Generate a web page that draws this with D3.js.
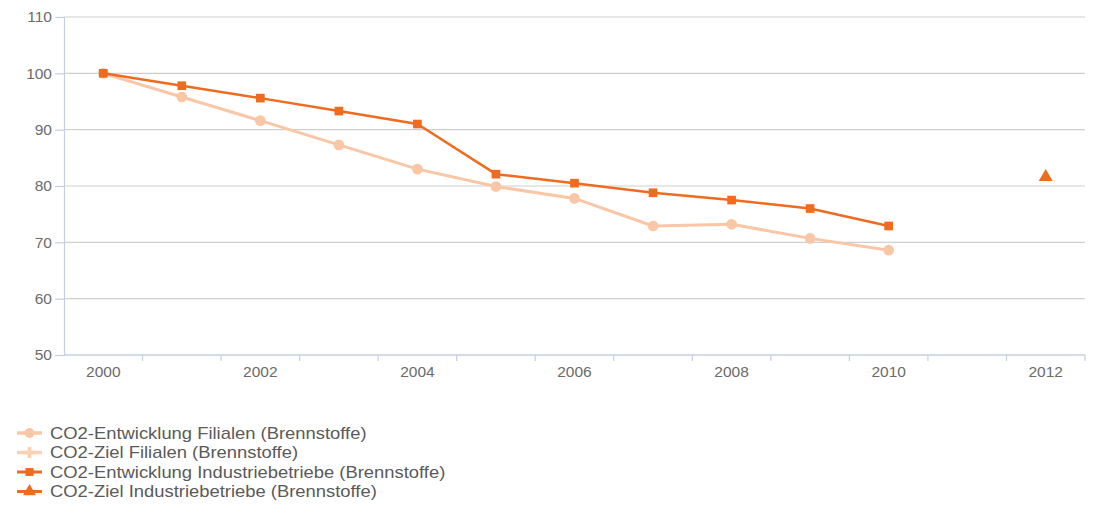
<!DOCTYPE html>
<html>
<head>
<meta charset="utf-8">
<script src="https://cdn.jsdelivr.net/npm/d3@7"></script>
<style>
  html, body { margin: 0; padding: 0; background: #fff; }
  svg { display: block; font-family: "Liberation Sans", Arial, sans-serif; }
</style>
</head>
<body>
<svg id="chart" width="1094" height="507"></svg>
<script>
// Years on the category axis
const years = [2000, 2001, 2002, 2003, 2004, 2005, 2006, 2007, 2008, 2009, 2010, 2011, 2012];
const yearLabels = ["2000", "2002", "2004", "2006", "2008", "2010", "2012"];
const yTicks = [50, 60, 70, 80, 90, 100, 110];

// Index values (2000 = 100)
const filialenEntwicklung = [100, 95.8, 91.6, 87.3, 83.0, 79.9, 77.8, 72.9, 73.2, 70.7, 68.6, null, null];
const filialenZiel = [null, null, null, null, null, null, null, null, null, null, null, null, null];
const industrieEntwicklung = [100, 97.8, 95.6, 93.3, 91.0, 82.1, 80.5, 78.8, 77.5, 76.0, 72.9, null, null];
const industrieZiel = [null, null, null, null, null, null, null, null, null, null, null, null, 81.6];

const seriesNames = [
  "CO2-Entwicklung Filialen (Brennstoffe)",
  "CO2-Ziel Filialen (Brennstoffe)",
  "CO2-Entwicklung Industriebetriebe (Brennstoffe)",
  "CO2-Ziel Industriebetriebe (Brennstoffe)"
];

const series = [
  { name: seriesNames[0], values: filialenEntwicklung, color: "#f9c6a6", width: 3, symbol: "circle" },
  { name: seriesNames[1], values: filialenZiel, color: "#fbd0b4", width: 3, symbol: "cross" },
  { name: seriesNames[2], values: industrieEntwicklung, color: "#ee6b1f", width: 2.5, symbol: "square" },
  { name: seriesNames[3], values: industrieZiel, color: "#ee6b1f", width: 2.5, symbol: "triangle" }
];

const svg = d3.select("#chart");
const margin = { left: 64, right: 9, top: 17, bottom: 152 };
const W = 1094, H = 507;

const x = d3.scaleBand().domain(years).range([margin.left, W - margin.right]).padding(0);
const y = d3.scaleLinear().domain([50, 110]).range([H - margin.bottom, margin.top]);
const cx = d => x(d) + x.bandwidth() / 2;

// Horizontal grid lines
svg.append("g")
  .selectAll("line")
  .data(yTicks.filter(t => t !== 50))
  .join("line")
  .attr("x1", margin.left).attr("x2", W - margin.right)
  .attr("y1", d => y(d)).attr("y2", d => y(d))
  .attr("stroke", "#cfcfcf").attr("stroke-width", 1.2);

// Y axis
const yAxis = svg.append("g")
  .attr("transform", `translate(${margin.left},0)`)
  .call(d3.axisLeft(y).tickValues(yTicks).tickSize(9).tickPadding(3));
yAxis.select(".domain").attr("stroke", "#c5cfe0").attr("stroke-width", 1.2);
yAxis.selectAll(".tick line").attr("stroke", "#c5cfe0").attr("stroke-width", 1.2);
yAxis.selectAll("text").attr("fill", "#6b6b6b").attr("font-size", 15.5);

// X axis: ticks on category boundaries, labels every second year
const xAxisG = svg.append("g").attr("transform", `translate(0,${y(50)})`);
xAxisG.append("line")
  .attr("x1", margin.left).attr("x2", W - margin.right)
  .attr("stroke", "#c5cfe0").attr("stroke-width", 1.5);
xAxisG.selectAll("line.tick")
  .data(years.slice(1).concat(["end"]))
  .join("line")
  .attr("class", "tick")
  .attr("x1", d => d === "end" ? W - margin.right : x(d))
  .attr("x2", d => d === "end" ? W - margin.right : x(d))
  .attr("y1", 0).attr("y2", 6)
  .attr("stroke", "#c5cfe0").attr("stroke-width", 1.2);
xAxisG.selectAll("text")
  .data(yearLabels)
  .join("text")
  .attr("x", d => cx(+d))
  .attr("y", 22)
  .attr("text-anchor", "middle")
  .attr("fill", "#6b6b6b")
  .attr("font-size", 15.5)
  .text(d => d);

// Lines and markers
const line = d3.line()
  .defined(d => d.v !== null)
  .x(d => cx(d.year))
  .y(d => y(d.v));

const symbolType = { circle: d3.symbolCircle, square: d3.symbolSquare, triangle: d3.symbolTriangle, cross: d3.symbolCross };
const symbolSize = { circle: 90, square: 75, triangle: 85, cross: 80 };

series.forEach(s => {
  const pts = years.map((yr, i) => ({ year: yr, v: s.values[i] }));
  svg.append("path")
    .datum(pts)
    .attr("fill", "none")
    .attr("stroke", s.color)
    .attr("stroke-width", s.width)
    .attr("stroke-linejoin", "round")
    .attr("d", line);
  svg.append("g")
    .selectAll("path")
    .data(pts.filter(p => p.v !== null))
    .join("path")
    .attr("transform", p => `translate(${cx(p.year)},${y(p.v)})`)
    .attr("d", d3.symbol().type(symbolType[s.symbol]).size(symbolSize[s.symbol]))
    .attr("fill", s.color);
});

// Legend
const legend = svg.append("g").attr("transform", "translate(17,433)");
series.forEach((s, i) => {
  const g = legend.append("g").attr("transform", `translate(0,${i * 19.5})`);
  g.append("line")
    .attr("x1", 0).attr("x2", 25)
    .attr("stroke", s.color).attr("stroke-width", s.width + 0.5);
  g.append("path")
    .attr("transform", "translate(12.5,0)")
    .attr("d", d3.symbol().type(symbolType[s.symbol]).size(symbolSize[s.symbol] * 0.85))
    .attr("fill", s.color);
  g.append("text")
    .attr("transform", "translate(33,5.5) scale(1.15,1)")
    .attr("fill", "#5a5a5a")
    .attr("font-size", 16)
    .text(s.name);
});
</script>
</body>
</html>
